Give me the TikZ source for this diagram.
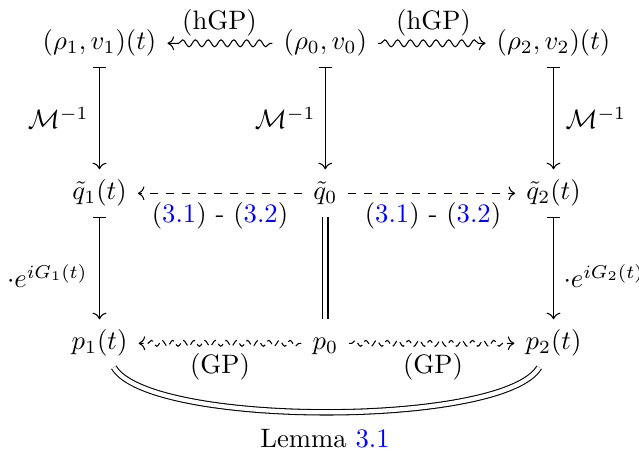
\documentclass[tikz,border=0pt]{standalone}
\usetikzlibrary{arrows.meta,decorations.pathmorphing}
\begin{document}
\begin{tikzpicture}[x=0.375pt,y=-0.375pt,
  obj/.style={inner xsep=4pt, inner ysep=3.8pt, text height=7.5pt, text depth=2.5pt, anchor=base},
  lbl/.style={inner sep=0pt},
  mapsto/.style={{Bar[width=5pt]}-{Computer Modern Rightarrow}},
  dasharrow/.style={-{Computer Modern Rightarrow}, dash pattern=on 3pt off 3pt},
  squig/.style={-{Computer Modern Rightarrow}, decorate,
    decoration={snake, amplitude=1.3pt, segment length=4.8pt, pre length=1pt, post length=2.5pt}},
  dsquig/.style={-{Computer Modern Rightarrow}, decorate, dash pattern=on 2.5pt off 1.5pt,
    decoration={snake, amplitude=1.1pt, segment length=4pt, pre length=1pt, post length=2.5pt}},
  eqline/.style={double, double distance=1.6pt}
]
\useasboundingbox (0,0) rectangle (639,454);
% objects
\node[obj] (t1) at (99.5,50) {$(\rho_1,v_1)(t)$};
\node[obj] (t0) at (325.3,50) {$(\rho_0,v_0)$};
\node[obj] (t2) at (553.5,50) {$(\rho_2,v_2)(t)$};
\node[obj] (m1) at (99.5,200) {$\tilde q_1(t)$};
\node[obj] (m0) at (325.3,200) {$\tilde q_0$};
\node[obj] (m2) at (553.5,200) {$\tilde q_2(t)$};
\node[obj] (b1) at (99.5,350) {$p_1(t)$};
\node[obj] (b0) at (325.3,350) {$p_0$};
\node[obj] (b2) at (553.5,350) {$p_2(t)$};
% horizontal connectors
\draw[squig] (t0) -- (t1);
\draw[squig] (t0) -- (t2);
\draw[dasharrow] (m0) -- (m1);
\draw[dasharrow] (m0) -- (m2);
\draw[dsquig] (b0) -- (b1);
\draw[dsquig] (b0) -- (b2);
% vertical connectors
\draw[mapsto] (t1) -- (m1);
\draw[mapsto] (t0) -- (m0);
\draw[mapsto] (t2) -- (m2);
\draw[mapsto] (m1) -- (b1);
\draw[mapsto] (m2) -- (b2);
\draw[eqline] (m0) -- (b0);
\draw[eqline] (b1) .. controls +(50,84) and +(-50,84) .. (b2);
% labels
\node[lbl, anchor=base] (h1) at (219.5,30) {(hGP)};
\node[lbl, anchor=base] (h2) at (433.5,30) {(hGP)};
\node[lbl, anchor=base] (r1) at (220,223) {(\textcolor{blue}{3.1}) - (\textcolor{blue}{3.2})};
\node[lbl, anchor=base] (r2) at (433,223) {(\textcolor{blue}{3.1}) - (\textcolor{blue}{3.2})};
\node[lbl, anchor=base] (g1) at (220,374) {(GP)};
\node[lbl, anchor=base] (g2) at (433,374) {(GP)};
\node[lbl, anchor=east] (M1) at (89,118) {$\mathcal{M}^{-1}$};
\node[lbl, anchor=east] (M0) at (316,118) {$\mathcal{M}^{-1}$};
\node[lbl, anchor=west] (M2) at (565,118) {$\mathcal{M}^{-1}$};
\node[lbl, anchor=base east] (E1) at (88,288) {$\cdot e^{iG_1(t)}$};
\node[lbl, anchor=base west] (E2) at (563,288) {$\cdot e^{iG_2(t)}$};
\node[lbl, anchor=base] (L) at (325,448) {Lemma \textcolor{blue}{3.1}};
\end{tikzpicture}
\end{document}
